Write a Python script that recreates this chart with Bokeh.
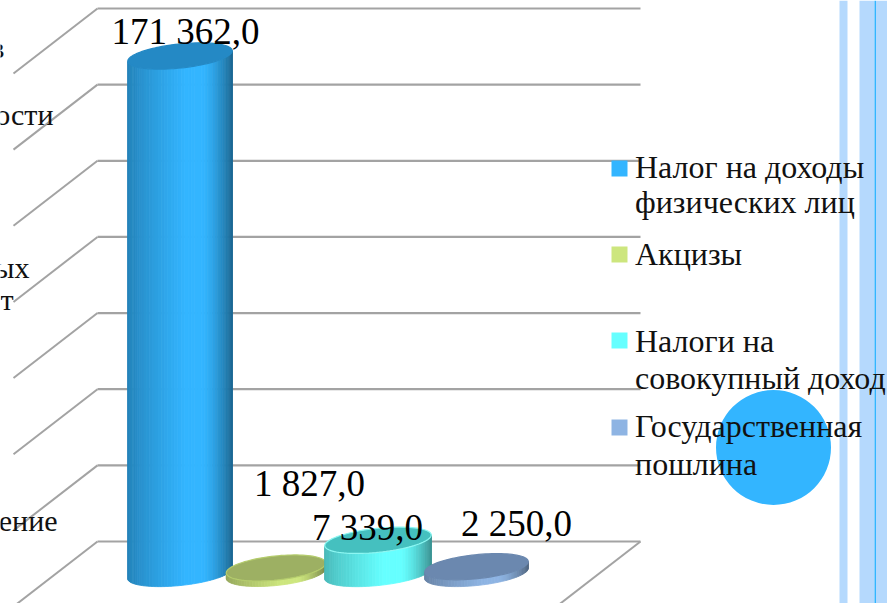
import math
from bokeh.core.properties import value
from bokeh.embed import file_html
from bokeh.models import Range1d
from bokeh.plotting import figure
from bokeh.resources import INLINE

# --- data ---
series_names = ["Налог на доходы физических лиц", "Акцизы", "Налоги на совокупный доход", "Государственная пошлина"]
value_labels = ["171 362,0", "1 827,0", "7 339,0", "2 250,0"]
drawn_heights = [171362.0, 1827.0, 11000.0, 2250.0]  # third column is drawn taller than its label says
grid_values = [0, 25000, 50000, 75000, 100000, 125000, 150000, 175000]
clipped_axis_labels = ["в", "ости", "ых", "т", "ение"]
legend_lines = ["Налог на доходы", "физических лиц", "Акцизы", "Налоги на", "совокупный доход", "Государственная", "пошлина"]

# --- styles ---
body_colors = ["#33B5FF", "#CDE67E", "#66FFFF", "#8EB4E3"]
cap_colors = ["#2489C5", "#9DB063", "#45C0BF", "#6B88AF"]
rim_colors = ["#2489C5", "#B4CC6C", "#8CF7F2", "#6B88AF"]
STRIPE = "#B5D9FD"
ACCENT = "#33B5FF"
GRID = "#A3A3A3"
FONT = value("Liberation Serif")

# --- layout, in page pixels ---
W, H = 887, 603
BASE_PX = 573.0
PX_PER_UNIT = 0.00302
centers = [179.5, 275.5, 377.5, 476.0]
semi_a = [52.5, 50.0, 53.5, 52.0]
SEMI_B = 12.0
TILT = math.radians(6.0)
WALL_X0, WALL_X1 = 97, 640
DX, DY = 84, 65
BASELINE_SHIFT = 0.35  # em, lift applied to every text
label_pos = [(185, 43.5), (309, 496), (367, 540), (516, 536)]
axis_label_pos = [(4, 57), (53, 124), (29, 277), (13, 309), (57, 530)]
legend_y = [178, 213, 265, 352, 389, 437, 475]
legend_swatch_y = [160, 246, 332, 419]
LABEL_SIZE, LEGEND_SIZE, AXIS_SIZE = 37, 32, 30

p = figure(
    width=W, height=H, output_backend="svg", toolbar_location=None,
    x_range=Range1d(0, W),
    y_range=Range1d(-(H - BASE_PX) / PX_PER_UNIT, BASE_PX / PX_PER_UNIT),
    min_border=0, outline_line_color=None,
)
p.styles = {"position": "absolute", "left": "0", "top": "0"}
p.axis.visible = False
p.grid.visible = False
p.extra_y_ranges = {
    "px": Range1d(H, 0),
    # back wall: 0 at pixel 541, 175000 at pixel 8
    "wall": Range1d(-(H - 541) * 175000 / 533, 175000 + 8 * 175000 / 533),
}
wall_unit = 175000 / 533

# stripes on the right
p.quad(left=[839, 859, 875.5], right=[847, 874, W], bottom=[H] * 3, top=[0] * 3,
       fill_color=STRIPE, line_color=None, y_range_name="px")
p.quad(left=[874], right=[875.5], bottom=[H], top=[0], fill_color=ACCENT, line_color=None, y_range_name="px")

# wall and floor lines
p.segment(x0=[WALL_X0] * 8, x1=[WALL_X1] * 8, y0=grid_values, y1=grid_values,
          line_color=GRID, line_width=2.2, y_range_name="wall")
p.segment(x0=[WALL_X0] * 8, x1=[WALL_X0 - DX] * 8, y0=grid_values,
          y1=[v - DY * wall_unit for v in grid_values],
          line_color=GRID, line_width=2, y_range_name="wall")
p.segment(x0=[WALL_X1], x1=[WALL_X1 - DX], y0=[0], y1=[-DY * wall_unit],
          line_color=GRID, line_width=2, y_range_name="wall")

# clipped axis labels
p.text(x=[q[0] for q in axis_label_pos], y=[q[1] for q in axis_label_pos], text=clipped_axis_labels,
       text_font=FONT, text_font_size=f"{AXIS_SIZE}px", text_color="#111111", text_align="right",
       text_baseline="alphabetic", y_offset=-BASELINE_SHIFT * AXIS_SIZE, y_range_name="px")

# decorative circle
p.scatter(x=[773], y=[447], size=115, marker="circle", fill_color=ACCENT, line_color=None, y_range_name="px")


def shade(color, u):
    if u < 0.55:
        f = 0.72 + 0.28 * (u / 0.55) ** 0.8
    elif u < 0.72:
        f = 1.0
    else:
        f = 1.0 - 0.42 * ((u - 0.72) / 0.28) ** 1.4
    r, g, b = (int(color[i:i + 2], 16) for i in (1, 3, 5))
    return "#%02x%02x%02x" % (int(r * f), int(g * f), int(b * f))


def ell(cx, a, t, b=SEMI_B):
    ex, ey = a * math.cos(t), b * math.sin(t)
    return cx + ex * math.cos(TILT) + ey * math.sin(TILT), (-ex * math.sin(TILT) + ey * math.cos(TILT)) / PX_PER_UNIT


N = 48
for i, height in enumerate(drawn_heights):
    cx, a = centers[i], semi_a[i]
    xs, ys, cols = [], [], []
    for j in range(N):
        t0, t1 = math.pi * (1 - j / N), math.pi * (1 - (j + 1) / N)
        x0, d0 = ell(cx, a, t0)
        x1, d1 = ell(cx, a, t1)
        xs.append([x0, x1, x1, x0])
        ys.append([height - d0, height - d1, -d1, -d0])
        cols.append(shade(body_colors[i], (x0 + x1 - 2 * (cx - a)) / (4 * a)))
    p.patches(xs, ys, fill_color=cols, line_color=cols, line_width=0.8)
    cap = [ell(cx, a, 2 * math.pi * j / 96) for j in range(96)]
    p.patch([q[0] for q in cap], [height - q[1] for q in cap], fill_color=cap_colors[i],
            line_color=rim_colors[i], line_width=1.2)

# value labels
p.text(x=[q[0] for q in label_pos], y=[q[1] for q in label_pos], text=value_labels,
       text_font=FONT, text_font_size=f"{LABEL_SIZE}px", text_color="#000000", text_align="center",
       text_baseline="alphabetic", y_offset=-BASELINE_SHIFT * LABEL_SIZE, y_range_name="px")

# legend
p.quad(left=[611] * 4, right=[627] * 4, top=legend_swatch_y, bottom=[y + 16 for y in legend_swatch_y],
       fill_color=body_colors, line_color=None, y_range_name="px")
p.text(x=[634.5] * len(legend_lines), y=legend_y, text=legend_lines,
       text_font=FONT, text_font_size=f"{LEGEND_SIZE}px", text_color="#111111", text_align="left",
       text_baseline="alphabetic", y_offset=-BASELINE_SHIFT * LEGEND_SIZE, y_range_name="px")

open("out.html", "w").write(file_html(p, INLINE))
